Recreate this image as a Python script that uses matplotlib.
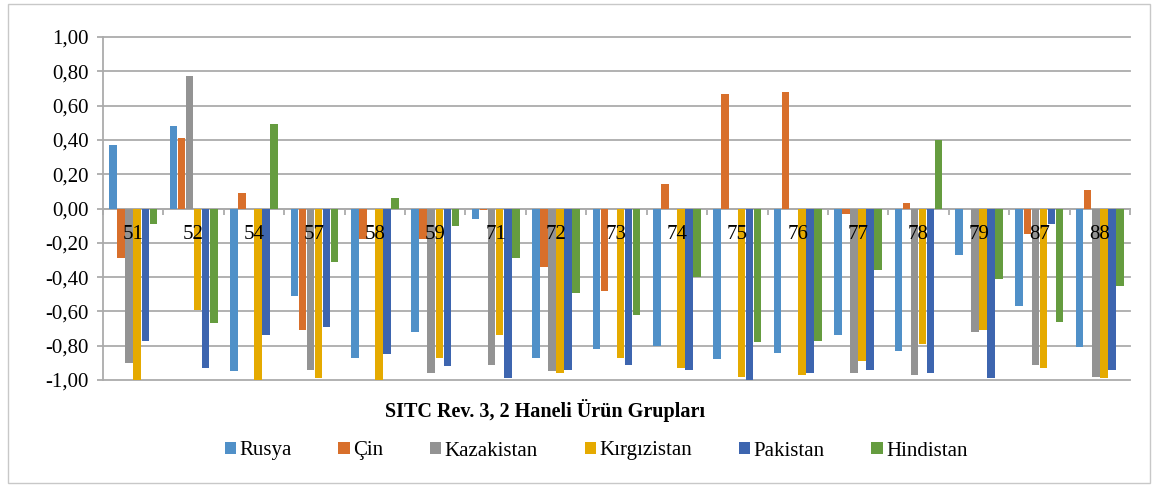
import numpy as np
import matplotlib
matplotlib.use("Agg")
import matplotlib.pyplot as plt
from matplotlib.patches import Rectangle
from matplotlib.ticker import FuncFormatter

plt.rcParams['font.family'] = ['Liberation Serif', 'DejaVu Serif']

categories = ["51", "52", "54", "57", "58", "59", "71", "72", "73", "74",
              "75", "76", "77", "78", "79", "87", "88"]

rusya = [0.37, 0.48, -0.95, -0.51, -0.87, -0.72, -0.06, -0.87, -0.82, -0.80,
         -0.88, -0.84, -0.74, -0.83, -0.27, -0.57, -0.81]
cin = [-0.29, 0.41, 0.09, -0.71, -0.18, -0.18, -0.01, -0.34, -0.48, 0.14,
       0.67, 0.68, -0.03, 0.03, 0.00, -0.15, 0.11]
kazakistan = [-0.90, 0.77, 0.00, -0.94, 0.00, -0.96, -0.91, -0.95, 0.00, 0.00,
              0.00, 0.00, -0.96, -0.97, -0.72, -0.91, -0.98]
kirgizistan = [-1.00, -0.59, -1.00, -0.99, -1.00, -0.87, -0.74, -0.96, -0.87, -0.93,
               -0.98, -0.97, -0.89, -0.79, -0.71, -0.93, -0.99]
pakistan = [-0.77, -0.93, -0.74, -0.69, -0.85, -0.92, -0.99, -0.94, -0.91, -0.94,
            -1.00, -0.96, -0.94, -0.96, -0.99, -0.09, -0.94]
hindistan = [-0.09, -0.67, 0.49, -0.31, 0.06, -0.10, -0.29, -0.49, -0.62, -0.40,
             -0.78, -0.77, -0.36, 0.40, -0.41, -0.66, -0.45]

series = [("Rusya", rusya, "#5090C8"),
          ("Çin", cin, "#D86F2B"),
          ("Kazakistan", kazakistan, "#939393"),
          ("Kırgızistan", kirgizistan, "#E5AA00"),
          ("Pakistan", pakistan, "#3D65AF"),
          ("Hindistan", hindistan, "#659C3F")]

fig = plt.figure(figsize=(11.58, 4.87), dpi=100)
ax = fig.add_axes([103 / 1158, 1 - 380 / 487, (1130 - 103) / 1158, (380 - 37) / 487])

x = np.arange(len(categories))
w = 1 / 7.5
for k, (name, vals, col) in enumerate(series):
    ax.bar(x + (k - 2.5) * w, vals, width=w * 0.94, color=col, label=name, zorder=3)

ax.set_xlim(-0.5, len(categories) - 0.5)
ax.set_ylim(-1.0, 1.0)
ax.set_yticks(np.arange(-1.0, 1.01, 0.2))
ax.yaxis.set_major_formatter(FuncFormatter(lambda v, _: f"{v:.2f}".replace(".", ",").replace("-0,00", "0,00")))
ax.tick_params(axis='y', length=4.5, width=1.3, color='#ababab', labelsize=15, pad=6)
ax.grid(axis='y', color='#ababab', linewidth=1.3, zorder=0, clip_on=False)

ax.spines['bottom'].set_position(('data', 0))
ax.spines['bottom'].set_color('#ababab')
ax.spines['bottom'].set_linewidth(1.3)
ax.spines['bottom'].set_zorder(2)
ax.spines['left'].set_color('#ababab')
ax.spines['left'].set_linewidth(1.3)
ax.spines['top'].set_visible(False)
ax.spines['right'].set_visible(False)
ax.set_xticks(np.arange(-0.5, len(categories), 1.0))
ax.set_xticklabels([])
ax.tick_params(axis='x', direction='out', length=4, color='#ababab', width=1.3)

for i, c in enumerate(categories):
    ax.text(i, -0.15, c, ha='center', va='center', fontsize=15, zorder=5)

fig.text(545 / 1158, 1 - 411 / 487, "SITC Rev. 3, 2 Haneli Ürün Grupları",
         ha='center', va='center', fontsize=14.5, fontweight='bold')

fig.legend(loc='center', bbox_to_anchor=(596 / 1158, 1 - 451 / 487), ncol=6,
           frameon=False, fontsize=15, handlelength=0.55, handleheight=0.55,
           handletextpad=0.15, columnspacing=2.25)

fig.patches.append(Rectangle((8 / 1158, 4 / 487), 1142 / 1158, 479 / 487,
                             transform=fig.transFigure, fill=False,
                             edgecolor='#c8c8c8', linewidth=1))

fig.savefig("out.png", dpi=100)
